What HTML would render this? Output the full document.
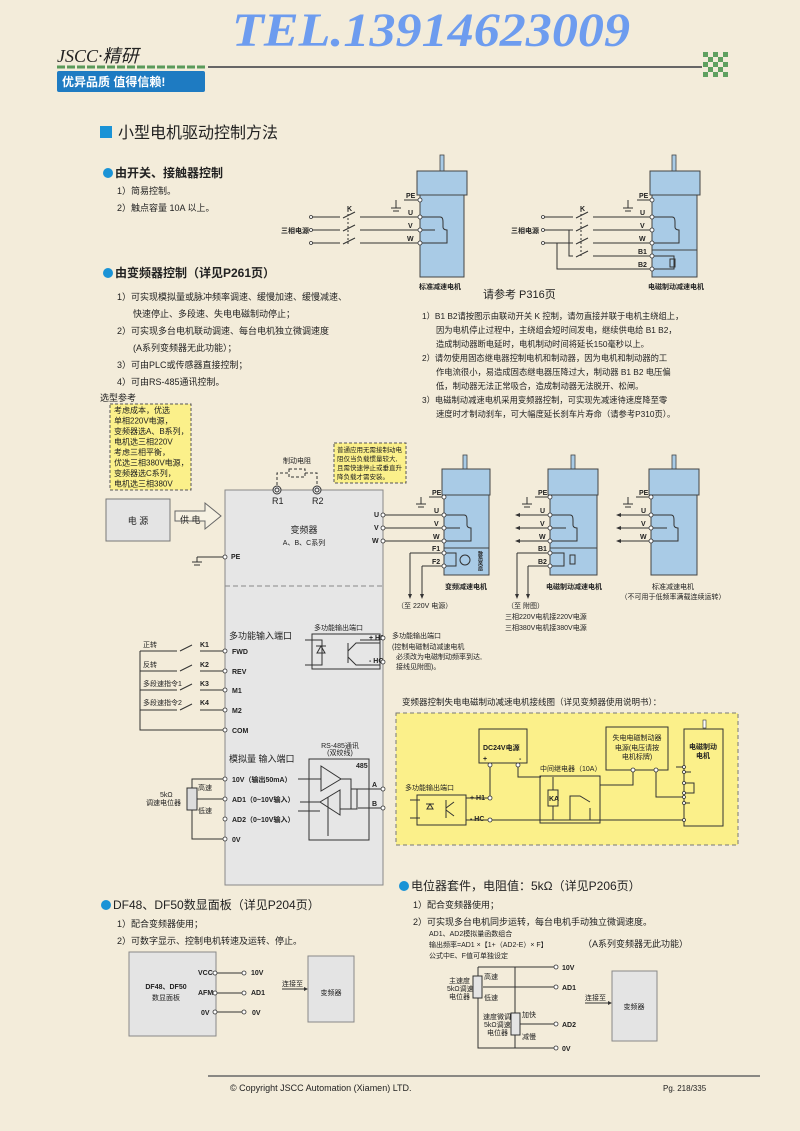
<!DOCTYPE html>
<html><head><meta charset="utf-8"><style>
html,body{margin:0;padding:0;background:#f3ecda}
svg{display:block}
text{font-family:"Liberation Sans","Noto Sans CJK SC",sans-serif;fill:#222}
.s{font-size:7px;font-weight:bold}
.m{font-size:9px}
.b{font-size:11px}
.h{font-size:12px;font-weight:bold}
.w{stroke:#333;stroke-width:1;fill:none}
.mot{fill:#a9cbe6;stroke:#444;stroke-width:1}
.tm{fill:#fff;stroke:#333;stroke-width:.8}
</style></head><body>
<svg width="800" height="1131" viewBox="0 0 800 1131" xmlns="http://www.w3.org/2000/svg">
<rect width="800" height="1131" fill="#f3ecda"/>
<!-- header -->
<text x="232" y="46" textLength="398" lengthAdjust="spacingAndGlyphs" style="font-family:'Liberation Serif',serif;font-style:italic;font-weight:bold;font-size:48px;fill:#6d9cef">TEL.13914623009</text>
<text x="57" y="62" style="font-family:'Liberation Serif',serif;font-style:italic;font-size:18px">JSCC·精研</text>
<line x1="57" y1="67" x2="205" y2="67" stroke="#5a9a5a" stroke-width="3" stroke-dasharray="8,2"/>
<rect x="57" y="71" width="148" height="21" rx="2" fill="#1e7bc2"/>
<text x="62" y="86" style="font-size:12px;font-weight:bold;fill:#fff">优异品质 值得信赖!</text>
<line x1="208" y1="67" x2="702" y2="67" stroke="#666" stroke-width="2"/>
<g fill="#5fa060">
<rect x="703" y="52" width="5" height="5"/><rect x="713" y="52" width="5" height="5"/><rect x="723" y="52" width="5" height="5"/>
<rect x="708" y="57" width="5" height="5"/><rect x="718" y="57" width="5" height="5"/>
<rect x="703" y="62" width="5" height="5"/><rect x="713" y="62" width="5" height="5"/><rect x="723" y="62" width="5" height="5"/>
<rect x="708" y="67" width="5" height="5"/><rect x="718" y="67" width="5" height="5"/>
<rect x="703" y="72" width="5" height="5"/><rect x="713" y="72" width="5" height="5"/><rect x="723" y="72" width="5" height="5"/>
</g>
<rect x="100" y="126" width="12" height="12" fill="#1a93d6"/>
<text x="118" y="138" style="font-size:16px">小型电机驱动控制方法</text>

<!-- section 1 -->
<circle cx="108" cy="173" r="5" fill="#1a93d6"/>
<text x="115" y="177" class="h">由开关、接触器控制</text>
<text x="117" y="194" class="m">1）简易控制。</text>
<text x="117" y="211" class="m">2）触点容量 10A 以上。</text>

<!-- motor 1 -->
<rect x="440" y="155" width="4" height="16" fill="#a9cbe6" stroke="#444" stroke-width=".8"/>
<rect x="417" y="171" width="50" height="24" class="mot"/>
<rect x="420" y="195" width="44" height="82" class="mot"/>
<text x="440" y="289" class="s" text-anchor="middle">标准减速电机</text>
<text x="281" y="233" class="s">三相电源</text>
<g class="w">
<path d="M311 217H340M355 212l-12 6M360 217H420"/>
<path d="M311 230H340M355 225l-12 6M360 230H420"/>
<path d="M311 243H340M355 238l-12 6M360 243H420"/>
<path d="M348 210V245" stroke-dasharray="2,2"/>
<path d="M404 200H420M396 200V208M391 208h10M393 211h6" />
<path d="M420 217h20c3 0 3 3 3 6v4c0 3 4 3 4 3h0v13H420"/>
<path d="M420 230h15"/>
</g>
<text x="347" y="211" class="s">K</text>
<text x="406" y="198" class="s">PE</text><text x="408" y="215" class="s">U</text><text x="408" y="228" class="s">V</text><text x="407" y="241" class="s">W</text>
<g class="tm"><circle cx="311" cy="217" r="1.5"/><circle cx="311" cy="230" r="1.5"/><circle cx="311" cy="243" r="1.5"/>
<circle cx="420" cy="200" r="2"/><circle cx="420" cy="217" r="2"/><circle cx="420" cy="230" r="2"/><circle cx="420" cy="243" r="2"/></g>

<!-- motor 2 -->
<rect x="672" y="155" width="4" height="16" fill="#a9cbe6" stroke="#444" stroke-width=".8"/>
<rect x="650" y="171" width="50" height="24" class="mot"/>
<rect x="652" y="195" width="45" height="82" class="mot"/>
<line x1="652" y1="250" x2="697" y2="250" stroke="#444"/>
<text x="676" y="289" class="s" text-anchor="middle">电磁制动减速电机</text>
<text x="511" y="233" class="s">三相电源</text>
<g class="w">
<path d="M543 217H573M588 212l-12 6M593 217H652"/>
<path d="M543 230H573M588 225l-12 6M593 230H652"/>
<path d="M543 243H573M588 238l-12 6M593 243H652"/>
<path d="M569 230V256H573M588 251l-12 6M593 256H652"/>
<path d="M557 243V269H652"/>
<path d="M581 210V258" stroke-dasharray="2,2"/>
<path d="M637 200H652M628 200V208M623 208h10M625 211h6"/>
<path d="M652 217h20c3 0 3 3 3 6v4c0 3 4 3 4 3v13H652"/>
<path d="M652 256h22v13H652M670 259h5v8h-5z"/>
</g>
<text x="580" y="211" class="s">K</text>
<text x="639" y="198" class="s">PE</text><text x="640" y="215" class="s">U</text><text x="640" y="228" class="s">V</text><text x="639" y="241" class="s">W</text><text x="638" y="254" class="s">B1</text><text x="638" y="267" class="s">B2</text>
<g class="tm"><circle cx="543" cy="217" r="1.5"/><circle cx="543" cy="230" r="1.5"/><circle cx="543" cy="243" r="1.5"/>
<circle cx="652" cy="200" r="2"/><circle cx="652" cy="217" r="2"/><circle cx="652" cy="230" r="2"/><circle cx="652" cy="243" r="2"/><circle cx="652" cy="256" r="2"/><circle cx="652" cy="269" r="2"/></g>
<text x="483" y="298" class="b">请参考 P316页</text>

<!-- section 2 -->
<circle cx="108" cy="273" r="5" fill="#1a93d6"/>
<text x="115" y="277" class="h">由变频器控制（详见P261页）</text>
<g class="m">
<text x="117" y="300">1）可实现模拟量或脉冲频率调速、缓慢加速、缓慢减速、</text>
<text x="133" y="317">快速停止、多段速、失电电磁制动停止；</text>
<text x="117" y="334">2）可实现多台电机联动调速、每台电机独立微调速度</text>
<text x="133" y="351">(A系列变频器无此功能）；</text>
<text x="117" y="368">3）可由PLC或传感器直接控制；</text>
<text x="117" y="385">4）可由RS-485通讯控制。</text>
</g>
<g style="font-size:8.3px">
<text x="422" y="319">1）B1 B2请按图示由联动开关 K 控制，请勿直接并联于电机主绕组上，</text>
<text x="436" y="333">因为电机停止过程中，主绕组会短时间发电，继续供电给 B1 B2，</text>
<text x="436" y="347">造成制动器断电延时，电机制动时间将延长150毫秒以上。</text>
<text x="422" y="361">2）请勿使用固态继电器控制电机和制动器，因为电机和制动器的工</text>
<text x="436" y="375">作电流很小，易造成固态继电器压降过大，制动器 B1 B2 电压偏</text>
<text x="436" y="389">低，制动器无法正常吸合，造成制动器无法脱开、松闸。</text>
<text x="422" y="403">3）电磁制动减速电机采用变频器控制，可实现先减速待速度降至零</text>
<text x="436" y="417">速度时才制动刹车，可大幅度延长刹车片寿命（请参考P310页）。</text>
</g>

<!-- selection ref -->
<text x="100" y="401" class="m">选型参考</text>
<rect x="110" y="404" width="81" height="86" fill="#fbf08a" stroke="#555" stroke-dasharray="3,2"/>
<g style="font-size:8px">
<text x="114" y="413">考虑成本，优选</text><text x="114" y="423.5">单相220V电源，</text>
<text x="114" y="434">变频器选A、B系列，</text><text x="114" y="444.5">电机选三相220V</text>
<text x="114" y="455">考虑三相平衡，</text><text x="114" y="465.5">优选三相380V电源，</text>
<text x="114" y="476">变频器选C系列，</text><text x="114" y="486.5">电机选三相380V</text>
</g>
<rect x="106" y="499" width="64" height="42" fill="#e4e4e4" stroke="#777"/>
<text x="138" y="524" class="m" text-anchor="middle">电 源</text>
<path d="M175 511h30v-8l16 13-16 13v-8h-30z" fill="#f6f1e2" stroke="#666"/>
<text x="180" y="523" class="m">供 电</text>

<!-- inverter -->
<rect x="225" y="490" width="158" height="395" fill="#e6e6e6" stroke="#888"/>
<line x1="225" y1="586" x2="383" y2="586" stroke="#888" stroke-dasharray="5,3"/>
<text x="304" y="533" class="m" text-anchor="middle">变频器</text>
<text x="304" y="545" class="s" text-anchor="middle" style="font-weight:normal">A、B、C系列</text>
<text x="297" y="463" class="s" text-anchor="middle" style="font-weight:normal">制动电阻</text>
<path d="M277 485V473h12M305 473h12v12" class="w" stroke-dasharray="3,2"/>
<rect x="289" y="469" width="16" height="8" fill="none" stroke="#333" stroke-dasharray="3,2"/>
<circle cx="277" cy="490" r="4" fill="#eee" stroke="#333"/><circle cx="277" cy="490" r="2" fill="none" stroke="#333"/>
<circle cx="317" cy="490" r="4" fill="#eee" stroke="#333"/><circle cx="317" cy="490" r="2" fill="none" stroke="#333"/>
<text x="272" y="504" class="m">R1</text><text x="312" y="504" class="m">R2</text>
<rect x="334" y="443" width="72" height="40" fill="#fbf08a" stroke="#555" stroke-dasharray="3,2"/>
<g style="font-size:6.5px"><text x="337" y="452">普通应用无需接制动电</text><text x="337" y="461">阻仅当负载惯量较大,</text><text x="337" y="470">且需快速停止或垂直升</text><text x="337" y="479">降负载才需安装。</text></g>
<text x="231" y="559" class="s">PE</text>
<path d="M197 557H223M197 557v5M192 562h10M194 565h6" class="w"/>
<circle cx="225" cy="557" r="2" class="tm"/>
<text x="374" y="517" class="s">U</text><text x="374" y="530" class="s">V</text><text x="372" y="543" class="s">W</text>
<g class="w"><path d="M385 515H444M385 528H444M385 541H444"/></g>
<g class="tm"><circle cx="383" cy="515" r="2"/><circle cx="383" cy="528" r="2"/><circle cx="383" cy="541" r="2"/></g>

<!-- motor 3 -->
<rect x="463" y="455" width="4" height="14" fill="#a9cbe6" stroke="#444" stroke-width=".8"/>
<rect x="442" y="469" width="48" height="26" class="mot"/>
<rect x="444" y="495" width="45" height="80" class="mot"/>
<line x1="444" y1="548" x2="489" y2="548" stroke="#444"/>
<g class="w">
<path d="M429 497H444M421 497v7M416 504h10M418 507h6"/>
<path d="M444 515h20c3 0 3 3 3 6v4c0 3 4 3 4 3v13H444M444 528h16"/>
<path d="M444 553h12v13H444M410 553h34M422 566h22"/>
<path d="M410 553V595M422 566V595"/>
<circle cx="465" cy="560" r="5"/>
</g>
<path d="M408 594l2 5 2-5zM420 594l2 5 2-5z" fill="#333"/>
<text x="432" y="495" class="s">PE</text><text x="434" y="513" class="s">U</text><text x="434" y="526" class="s">V</text><text x="433" y="539" class="s">W</text><text x="432" y="551" class="s">F1</text><text x="432" y="564" class="s">F2</text>
<text x="480" y="551" style="writing-mode:tb;font-size:5px;font-weight:bold">散热风扇</text>
<g class="tm"><circle cx="444" cy="497" r="2"/><circle cx="444" cy="515" r="2"/><circle cx="444" cy="528" r="2"/><circle cx="444" cy="541" r="2"/><circle cx="444" cy="553" r="2"/><circle cx="444" cy="566" r="2"/></g>
<text x="466" y="589" class="s" text-anchor="middle">变频减速电机</text>
<text x="397" y="608" class="s" style="font-weight:normal">（至 220V 电源）</text>

<!-- motor 4 -->
<rect x="571" y="455" width="4" height="14" fill="#a9cbe6" stroke="#444" stroke-width=".8"/>
<rect x="548" y="469" width="50" height="26" class="mot"/>
<rect x="550" y="495" width="47" height="80" class="mot"/>
<line x1="550" y1="548" x2="597" y2="548" stroke="#444"/>
<g class="w">
<path d="M535 497H550M527 497v7M522 504h10M524 507h6"/>
<path d="M519 515H550M519 528H550M519 541H550"/>
<path d="M550 515h20c3 0 3 3 3 6v4c0 3 4 3 4 3v13H550M550 528h16"/>
<path d="M517 553H550M528 566H550M550 553h14v13H550M517 553V595M528 566V595"/>
<rect x="570" y="555" width="5" height="9"/>
</g>
<path d="M520 513l-5 2 5 2zM520 526l-5 2 5 2zM520 539l-5 2 5 2zM515 594l2 5 2-5zM526 594l2 5 2-5z" fill="#333"/>
<text x="538" y="495" class="s">PE</text><text x="540" y="513" class="s">U</text><text x="540" y="526" class="s">V</text><text x="539" y="539" class="s">W</text><text x="538" y="551" class="s">B1</text><text x="538" y="564" class="s">B2</text>
<g class="tm"><circle cx="550" cy="497" r="2"/><circle cx="550" cy="515" r="2"/><circle cx="550" cy="528" r="2"/><circle cx="550" cy="541" r="2"/><circle cx="550" cy="553" r="2"/><circle cx="550" cy="566" r="2"/></g>
<text x="574" y="589" class="s" text-anchor="middle">电磁制动减速电机</text>
<g class="s" style="font-weight:normal"><text x="507" y="608">（至 附图）</text><text x="505" y="619">三相220V电机接220V电源</text><text x="505" y="630">三相380V电机接380V电源</text></g>

<!-- motor 5 -->
<rect x="672" y="455" width="4" height="14" fill="#a9cbe6" stroke="#444" stroke-width=".8"/>
<rect x="649" y="469" width="50" height="26" class="mot"/>
<rect x="651" y="495" width="46" height="80" class="mot"/>
<g class="w">
<path d="M636 497H651M628 497v7M623 504h10M625 507h6"/>
<path d="M620 515H651M620 528H651M620 541H651"/>
<path d="M651 515h20c3 0 3 3 3 6v4c0 3 4 3 4 3v13H651M651 528h16"/>
</g>
<path d="M621 513l-5 2 5 2zM621 526l-5 2 5 2zM621 539l-5 2 5 2z" fill="#333"/>
<text x="639" y="495" class="s">PE</text><text x="641" y="513" class="s">U</text><text x="641" y="526" class="s">V</text><text x="640" y="539" class="s">W</text>
<g class="tm"><circle cx="651" cy="497" r="2"/><circle cx="651" cy="515" r="2"/><circle cx="651" cy="528" r="2"/><circle cx="651" cy="541" r="2"/></g>
<text x="673" y="589" class="s" text-anchor="middle" style="font-weight:normal">标准减速电机</text>
<text x="673" y="599" class="s" text-anchor="middle" style="font-weight:normal">（不可用于低频率满载连续运转）</text>

<!-- inputs -->
<text x="229" y="639" class="m">多功能输入端口</text>
<g class="s"><text x="232" y="654">FWD</text><text x="232" y="674">REV</text><text x="232" y="693">M1</text><text x="232" y="713">M2</text><text x="232" y="733">COM</text></g>
<g class="s" style="font-weight:normal"><text x="143" y="647">正转</text><text x="143" y="667">反转</text><text x="143" y="686">多段速指令1</text><text x="143" y="705">多段速指令2</text></g>
<g class="s"><text x="200" y="647">K1</text><text x="200" y="667">K2</text><text x="200" y="686">K3</text><text x="200" y="705">K4</text></g>
<g class="w">
<path d="M140 651H177M192 645l-12 6M200 651H223"/>
<path d="M140 671H177M192 665l-12 6M200 671H223"/>
<path d="M140 690H177M192 684l-12 6M200 690H223"/>
<path d="M140 710H177M192 704l-12 6M200 710H223"/>
<path d="M140 651V730H223"/>
</g>
<g class="tm"><circle cx="225" cy="651" r="2"/><circle cx="225" cy="671" r="2"/><circle cx="225" cy="690" r="2"/><circle cx="225" cy="710" r="2"/><circle cx="225" cy="730" r="2"/></g>
<text x="314" y="630" class="s" style="font-weight:normal">多功能输出端口</text>
<rect x="312" y="634" width="68" height="35" fill="none" stroke="#333"/>
<g class="w"><path d="M305 640h17v25h-17M316 646h10M321 646l-4 7h8z M348 643v20M348 651l8-8h24M348 657l8 8h24M360 640H380"/></g>
<text x="369" y="640" class="s">+ H1</text><text x="369" y="663" class="s">- HC</text>
<g class="tm"><circle cx="383" cy="638" r="2"/><circle cx="383" cy="662" r="2"/></g>
<g class="s" style="font-weight:normal"><text x="392" y="638">多功能输出端口</text><text x="392" y="649">(控制电磁制动减速电机</text><text x="396" y="659">必须改为电磁制动频率到达,</text><text x="396" y="669">接线见附图)。</text></g>

<!-- analog -->
<text x="229" y="762" class="m">模拟量 输入端口</text>
<g class="s"><text x="232" y="782">10V（输出50mA）</text><text x="232" y="802">AD1（0~10V输入）</text><text x="232" y="822">AD2（0~10V输入）</text><text x="232" y="842">0V</text></g>
<g class="tm"><circle cx="225" cy="779" r="2"/><circle cx="225" cy="799" r="2"/><circle cx="225" cy="819" r="2"/><circle cx="225" cy="839" r="2"/></g>
<g class="w"><path d="M192 788V779H223M192 810V839H223M197 799H223"/></g>
<rect x="187" y="788" width="10" height="22" fill="#ddd" stroke="#333"/>
<g class="s" style="font-weight:normal"><text x="198" y="790">高速</text><text x="198" y="813">低速</text><text x="160" y="797">5kΩ</text><text x="146" y="805">调速电位器</text></g>
<text x="340" y="748" class="s" text-anchor="middle" style="font-weight:normal">RS-485通讯</text>
<text x="340" y="755" class="s" text-anchor="middle" style="font-weight:normal">(双绞线)</text>
<rect x="309" y="759" width="60" height="81" fill="none" stroke="#333"/>
<text x="356" y="768" class="s">485</text>
<g class="w"><path d="M321 766v25l20-12z M340 815v-25l-20 12z M298 779h23M298 811h22M341 779h10v10h32M320 802h-20M351 779v30M340 809h17v-20M358 808h25M328 797V836"/></g>
<g class="s"><text x="372" y="787">A</text><text x="372" y="806">B</text></g>
<g class="tm"><circle cx="383" cy="789" r="2"/><circle cx="383" cy="808" r="2"/></g>

<!-- appendix box -->
<text x="402" y="705" style="font-size:8.5px">变频器控制失电电磁制动减速电机接线图（详见变频器使用说明书）：</text>
<rect x="396" y="713" width="342" height="132" fill="#fbf08a" stroke="#777" stroke-dasharray="4,3"/>
<rect x="479" y="729" width="48" height="34" fill="none" stroke="#333"/>
<text x="483" y="750" class="s">DC24V电源</text>
<text x="483" y="761" class="s">+</text><text x="519" y="761" class="s">-</text>
<rect x="606" y="727" width="62" height="43" fill="none" stroke="#333"/>
<g class="s" style="font-weight:normal"><text x="637" y="740" text-anchor="middle">失电电磁制动器</text><text x="637" y="750" text-anchor="middle">电源(电压请按</text><text x="637" y="759" text-anchor="middle">电机标牌)</text></g>
<text x="540" y="771" class="s" style="font-weight:normal">中间继电器（10A）</text>
<rect x="540" y="776" width="60" height="47" fill="none" stroke="#333"/>
<rect x="548" y="790" width="10" height="16" fill="none" stroke="#333"/>
<text x="549" y="801" class="s">KA</text>
<rect x="684" y="729" width="39" height="97" fill="none" stroke="#333"/>
<g class="s"><text x="703" y="749" text-anchor="middle">电磁制动</text><text x="703" y="758" text-anchor="middle">电机</text></g>
<rect x="703" y="720" width="3" height="8" fill="#fff" stroke="#333" stroke-width=".6"/>
<text x="405" y="790" class="s" style="font-weight:normal">多功能输出端口</text>
<rect x="417" y="795" width="49" height="30" fill="none" stroke="#333"/>
<g class="s"><text x="470" y="800">+ H1</text><text x="470" y="821">- HC</text></g>
<g class="w">
<path d="M490 767V798H466M518 767V777H541M466 820H600M553 790V777M553 806V820"/>
<path d="M570 820V796h10l10 6M590 808V820M600 778V820M600 785h3M633 770V785H600M656 770V797H684"/>
<path d="M600 820H684M676 767h8"/>
<path d="M684 772h7M684 783h10v10h-10M684 803h6"/>
<path d="M410 800h10M410 818h10M426 804h8M430 804l-3 5h6zM446 800v18M446 808l8-6M446 810l8 6"/>
</g>
<g class="tm"><circle cx="490" cy="765" r="2"/><circle cx="518" cy="765" r="2"/><circle cx="490" cy="798" r="2"/><circle cx="490" cy="820" r="2"/><circle cx="633" cy="770" r="2"/><circle cx="656" cy="770" r="2"/>
<circle cx="684" cy="767" r="1.5"/><circle cx="684" cy="772" r="1.5"/><circle cx="684" cy="783" r="1.5"/><circle cx="684" cy="793" r="1.5"/><circle cx="684" cy="803" r="1.5"/><circle cx="684" cy="797" r="1.5"/><circle cx="684" cy="820" r="1.5"/></g>

<!-- DF48 -->
<circle cx="106" cy="905" r="5" fill="#1a93d6"/>
<text x="113" y="909" style="font-size:12px">DF48、DF50数显面板（详见P204页）</text>
<text x="117" y="927" class="m">1）配合变频器使用；</text>
<text x="117" y="944" class="m">2）可数字显示、控制电机转速及运转、停止。</text>
<rect x="129" y="952" width="87" height="84" fill="#e4e4e4" stroke="#888"/>
<text x="166" y="989" class="s" text-anchor="middle">DF48、DF50</text>
<text x="166" y="1000" class="s" text-anchor="middle" style="font-weight:normal">数显面板</text>
<g class="s"><text x="198" y="975">VCC</text><text x="198" y="995">AFM</text><text x="201" y="1015">0V</text><text x="251" y="975">10V</text><text x="251" y="995">AD1</text><text x="252" y="1015">0V</text></g>
<g class="w"><path d="M217 973H243M217 993H243M217 1012H243M282 989H305"/></g>
<path d="M304 987l4 2-4 2z" fill="#333"/>
<g class="tm"><circle cx="215" cy="973" r="2"/><circle cx="215" cy="993" r="2"/><circle cx="215" cy="1012" r="2"/><circle cx="244" cy="973" r="2"/><circle cx="244" cy="993" r="2"/><circle cx="244" cy="1012" r="2"/></g>
<text x="282" y="986" class="s" style="font-weight:normal">连接至</text>
<rect x="308" y="956" width="46" height="66" fill="#e4e4e4" stroke="#888"/>
<text x="331" y="995" class="s" text-anchor="middle" style="font-weight:normal">变频器</text>

<!-- pot kit -->
<circle cx="404" cy="886" r="5" fill="#1a93d6"/>
<text x="411" y="890" style="font-size:12px">电位器套件，电阻值：5kΩ（详见P206页）</text>
<text x="413" y="908" class="m">1）配合变频器使用；</text>
<text x="413" y="925" class="m">2）可实现多台电机同步运转，每台电机手动独立微调速度。</text>
<g class="s" style="font-weight:normal"><text x="429" y="936">AD1、AD2模拟量函数组合</text><text x="429" y="947">输出频率=AD1 ×【1+（AD2-E）× F】</text><text x="429" y="958">公式中E、F值可单独设定</text></g>
<text x="583" y="947" class="m">（A系列变频器无此功能）</text>
<g class="w"><path d="M478 967V1048H554M478 967H554M515 967V1013M515 1033V1048M483 987H554"/></g>
<rect x="473" y="976" width="9" height="22" fill="#e4e4e4" stroke="#333"/>
<rect x="511" y="1013" width="9" height="22" fill="#e4e4e4" stroke="#333"/>
<path d="M520 1024H554" class="w"/>
<g class="tm"><circle cx="556" cy="967" r="2"/><circle cx="556" cy="987" r="2"/><circle cx="556" cy="1024" r="2"/><circle cx="556" cy="1048" r="2"/></g>
<g class="s"><text x="562" y="970">10V</text><text x="562" y="990">AD1</text><text x="562" y="1027">AD2</text><text x="562" y="1051">0V</text></g>
<g class="s" style="font-weight:normal"><text x="484" y="979">高速</text><text x="484" y="1000">低速</text><text x="449" y="983">主速度</text><text x="447" y="991">5kΩ调速</text><text x="449" y="999">电位器</text>
<text x="522" y="1017">加快</text><text x="522" y="1039">减慢</text><text x="483" y="1019">速度微调</text><text x="484" y="1027">5kΩ调速</text><text x="487" y="1035">电位器</text></g>
<text x="585" y="1000" class="s" style="font-weight:normal">连接至</text>
<path d="M585 1003H609" class="w"/><path d="M608 1001l4 2-4 2z" fill="#333"/>
<rect x="612" y="971" width="45" height="70" fill="#e4e4e4" stroke="#888"/>
<text x="634" y="1009" class="s" text-anchor="middle" style="font-weight:normal">变频器</text>

<!-- footer -->
<line x1="208" y1="1076" x2="760" y2="1076" stroke="#666" stroke-width="1.5"/>
<text x="230" y="1091" style="font-size:9px">© Copyright JSCC Automation (Xiamen) LTD.</text>
<text x="663" y="1091" style="font-size:8px">Pg. 218/335</text>
</svg>
</body></html>
